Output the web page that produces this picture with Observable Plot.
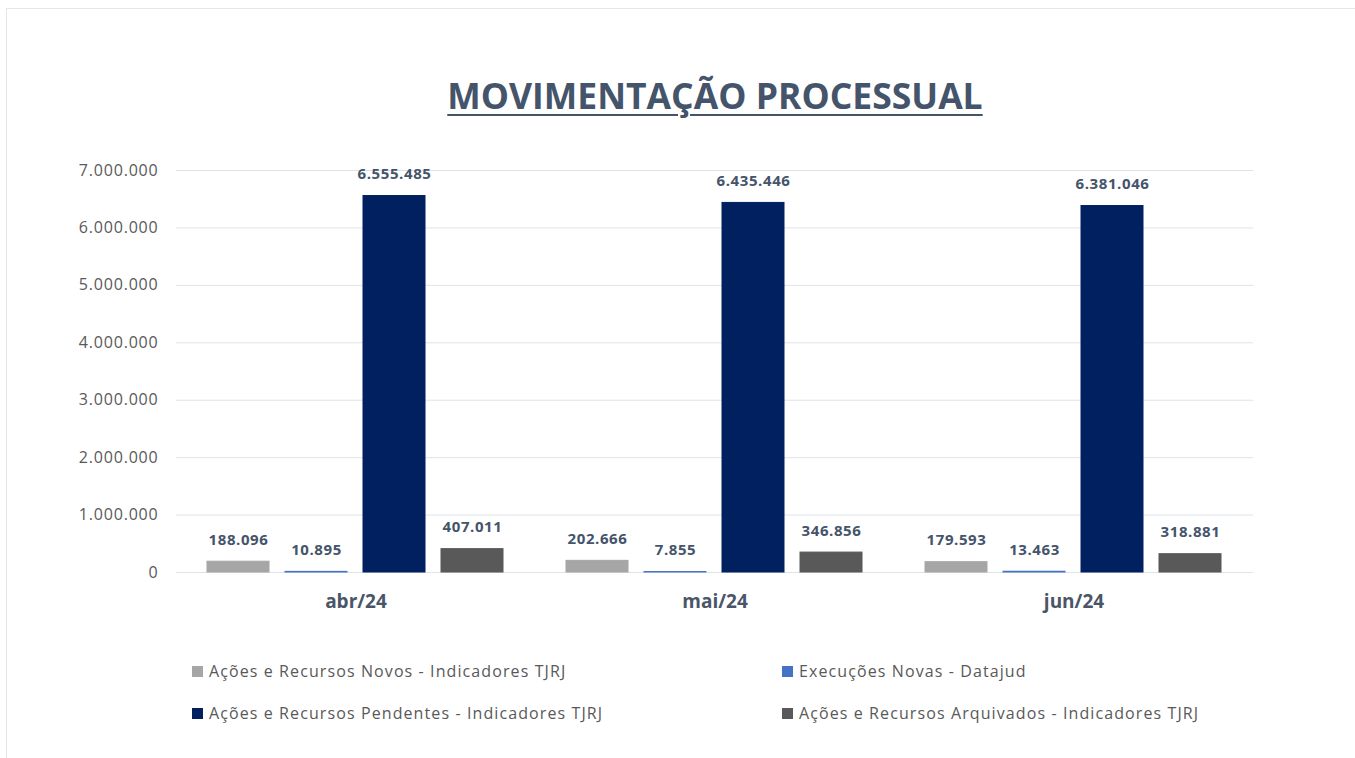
<!DOCTYPE html>
<html>
<head>
<meta charset="utf-8">
<script src="https://cdn.jsdelivr.net/npm/d3@7"></script>
<script src="https://cdn.jsdelivr.net/npm/@observablehq/plot@0.6"></script>
<style>
  html, body { margin: 0; padding: 0; background: #fff; }
  body { width: 1355px; height: 758px; position: relative; overflow: hidden; font-family: "Open Sans", "Noto Sans", sans-serif; }
  #frame { position: absolute; left: 6px; top: 8px; width: 1360px; height: 770px; border: 1.5px solid #e3e7ec; box-sizing: border-box; }
  #title { position: absolute; left: 0; width: 1430px; top: 71px; text-align: center; font-size: 35.5px; font-weight: 700; color: #44546a; text-decoration: underline; text-decoration-thickness: 2px; text-underline-offset: 5px; }
  #chart { position: absolute; left: 0; top: 140px; }
  #legend { position: absolute; left: 192px; top: 660px; display: grid; grid-template-columns: 590px 500px; row-gap: 20px; font-size: 16px; letter-spacing: 1.1px; color: #595959; }
  .item { display: flex; align-items: center; height: 22px; }
  .sw { width: 11px; height: 11px; margin-right: 6px; }
</style>
</head>
<body>
<div id="frame"></div>
<div id="title">MOVIMENTAÇÃO PROCESSUAL</div>
<div id="chart"></div>
<div id="legend"></div>
<script>
const months = ["abr/24", "mai/24", "jun/24"];
const series = [
  "Ações e Recursos Novos - Indicadores TJRJ",
  "Execuções Novas - Datajud",
  "Ações e Recursos Pendentes - Indicadores TJRJ",
  "Ações e Recursos Arquivados - Indicadores TJRJ"
];
const colors = ["#a6a6a6", "#4472c4", "#002060", "#595959"];
const novos = [188096, 202666, 179593];
const execucoes = [10895, 7855, 13463];
const pendentes = [6555485, 6435446, 6381046];
const arquivados = [407011, 346856, 318881];
const yTicks = [0, 1000000, 2000000, 3000000, 4000000, 5000000, 6000000, 7000000];

const valuesBySeries = [novos, execucoes, pendentes, arquivados];
const data = [];
months.forEach((m, i) => {
  series.forEach((s, j) => data.push({month: m, series: s, value: valuesBySeries[j][i]}));
});

const fmt = d3.formatLocale({decimal: ",", thousands: ".", grouping: [3], currency: ["R$", ""]}).format(",d");

const plot = Plot.plot({
  width: 1355,
  height: 480,
  marginLeft: 175,
  marginRight: 102,
  marginTop: 30,
  marginBottom: 48,
  style: {fontFamily: "'Open Sans', 'Noto Sans', sans-serif", background: "transparent"},
  fx: {domain: months, padding: 0, label: null},
  x: {domain: series, paddingInner: 0.2, paddingOuter: 0.4, axis: null},
  y: {domain: [0, 7000000], axis: null},
  color: {domain: series, range: colors},
  marks: [
    Plot.gridY(yTicks, {stroke: "#dde3ea", strokeOpacity: 1, strokeWidth: 1}),
    Plot.barY(data, {fx: "month", x: "series", y: "value", fill: "series", stroke: "series", strokeWidth: 1}),
    Plot.text(data, {fx: "month", x: "series", y: "value", text: d => fmt(d.value), lineAnchor: "bottom", dy: -17, fontSize: 15, fontWeight: 700, fill: "#44546a", style: "letter-spacing:0.6px"}),
    Plot.axisY({ticks: yTicks, tickFormat: fmt, tickSize: 0, tickPadding: 18, fontSize: 16, fill: "#595959", label: null}),
    Plot.axisFx({anchor: "bottom", tickSize: 0, tickPadding: 22, fontSize: 19, fontWeight: 700, fill: "#4a5668", label: null})
  ]
});
plot.querySelectorAll("g[aria-label='y-axis tick label'] text").forEach(t => t.setAttribute("letter-spacing", "0.8"));
plot.querySelectorAll("g[aria-label='text'] text").forEach(t => t.setAttribute("letter-spacing", "0.6"));
document.getElementById("chart").appendChild(plot);

const legend = document.getElementById("legend");
[0, 1, 2, 3].forEach(j => {
  const it = document.createElement("div");
  it.className = "item";
  it.innerHTML = `<span class="sw" style="background:${colors[j]}"></span><span>${series[j]}</span>`;
  legend.appendChild(it);
});
</script>
</body>
</html>
